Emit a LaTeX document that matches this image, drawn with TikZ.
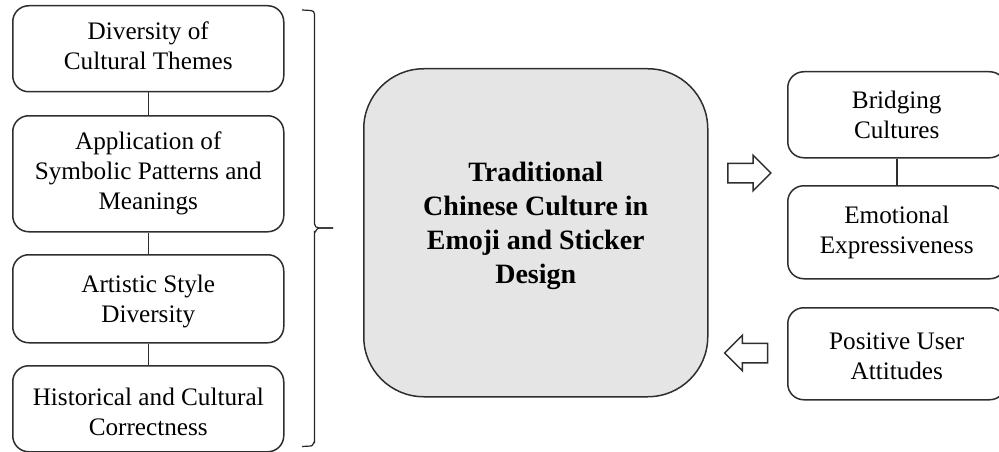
\documentclass[tikz,border=0pt]{standalone}
\usepackage{fontspec}
\setmainfont{Liberation Serif}
\usetikzlibrary{shapes.arrows}
\newcommand{\lowerby}[1]{\rule[-#1pt]{0pt}{#1pt}}
\newcommand{\raiseby}[1]{\rule{0pt}{#1pt}}
\tikzset{
  x=1pt,y=-1pt,
  line/.style={draw=black!82,line width=1.5pt},
  box/.style={line,rounded corners=16pt,align=center,font=\fontsize{25.2pt}{30pt}\selectfont,inner sep=0pt,anchor=north west},
  centerbox/.style={line,rounded corners=60pt,fill=black!10,align=center,font=\fontsize{28pt}{34pt}\selectfont\bfseries,inner sep=0pt,anchor=north west},
  blockarrow/.style={line,single arrow,single arrow head extend=8pt,minimum width=33pt,minimum height=43pt,inner sep=0pt,text height=9pt,text depth=9pt,text width=0pt},
  bracket/.style={draw=black!85,line width=1.2pt},
}
\begin{document}
\begin{tikzpicture}
\useasboundingbox (0,0) rectangle (999,452);
\node[box,minimum width=271pt,minimum height=86pt] (a) at (12,5) {Diversity of\\Cultural Themes\lowerby{7}};
\node[box,minimum width=271pt,minimum height=116pt] (b) at (12,115) {Application of\\Symbolic Patterns and\\Meanings};
\node[box,minimum width=271pt,minimum height=88pt] (c) at (12,254) {\raiseby{23}Artistic Style\\Diversity};
\node[box,minimum width=271pt,minimum height=86pt] (d) at (12,365) {\raiseby{23}Historical and Cultural\\Correctness};
\draw[line] (a) -- (b);
\draw[line] (b) -- (c);
\draw[line] (c) -- (d);
\node[centerbox,minimum width=344pt,minimum height=328pt] (m) at (363,68) {Traditional\\Chinese Culture in\\Emoji and Sticker\\Design\lowerby{20}};
\node[box,minimum width=218pt,minimum height=86pt] (e) at (787,71) {Bridging\\Cultures};
\node[box,minimum width=218pt,minimum height=93pt] (f) at (787,185) {Emotional\\Expressiveness};
\node[box,minimum width=218pt,minimum height=92pt] (g) at (787,307) {\raiseby{21}Positive User\\Attitudes};
\draw[line] (e) -- (f);
\node[blockarrow] (r) at (744.5,173) {};
\node[blockarrow,shape border rotate=180] (l) at (751,353) {};
\coordinate (bt) at (302,10);
\coordinate (bb) at (302,446.5);
\coordinate (bm) at (333,228);
\draw[bracket] (bt) -- (311,10.5) to[out=0,in=90] (314.5,14) -- (314.5,224) to[out=-90,in=180] (319,228) -- (bm);
\draw[bracket] (bm) -- (319,228) to[out=180,in=-90] (314.5,232) -- (314.5,442) to[out=90,in=0] (311,446) -- (bb);
\end{tikzpicture}
\end{document}
